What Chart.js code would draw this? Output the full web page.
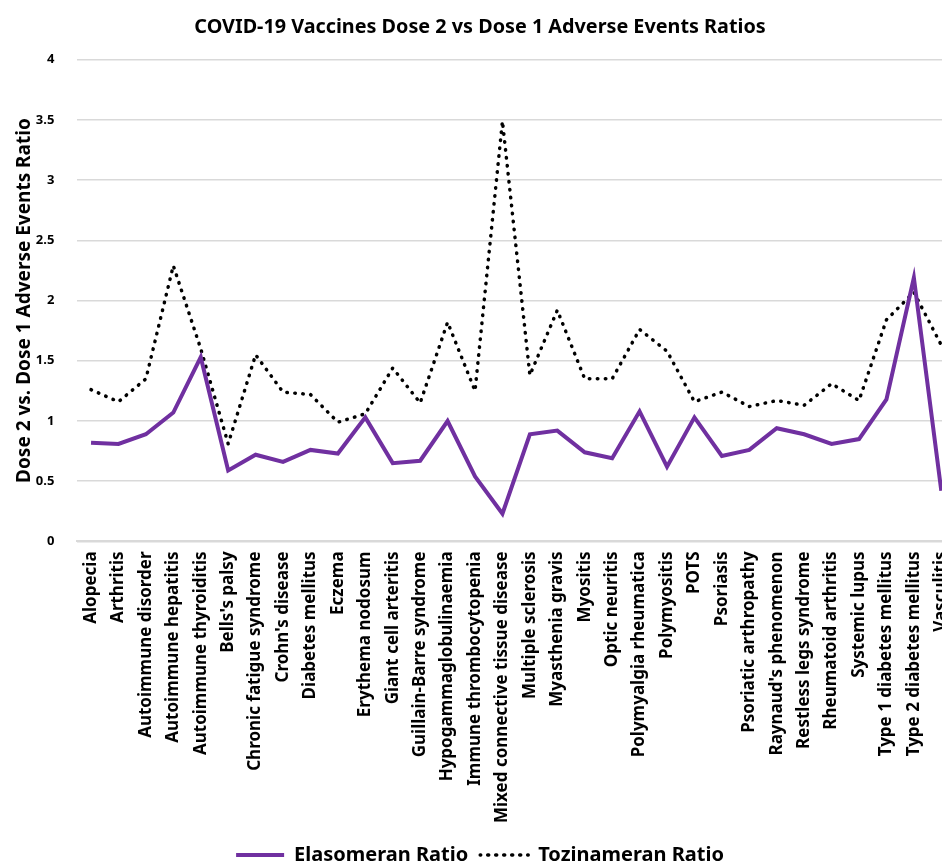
<!DOCTYPE html>
<html>
<head>
<meta charset="utf-8">
<script src="https://cdn.jsdelivr.net/npm/chart.js@4"></script>
<style>
  html, body { margin: 0; padding: 0; background: #fff; overflow: hidden; }
  #wrap { width: 962px; height: 875px; }
</style>
</head>
<body>
<div id="wrap"><canvas id="myChart" width="962" height="875"></canvas></div>
<script>
const categorias = [
  'Alopecia', 'Arthritis', 'Autoimmune disorder', 'Autoimmune hepatitis',
  'Autoimmune thyroiditis', "Bells's palsy", 'Chronic fatigue syndrome',
  "Crohn's disease", 'Diabetes mellitus', 'Eczema', 'Erythema nodosum',
  'Giant cell arteritis', 'Guillain-Barre syndrome', 'Hypogammaglobulinaemia',
  'Immune thrombocytopenia', 'Mixed connective tissue disease',
  'Multiple sclerosis', 'Myasthenia gravis', 'Myositis', 'Optic neuritis',
  'Polymyalgia rheumatica', 'Polymyositis', 'POTS', 'Psoriasis',
  'Psoriatic arthropathy', "Raynaud's phenomenon", 'Restless legs syndrome',
  'Rheumatoid arthritis', 'Systemic lupus', 'Type 1 diabetes mellitus',
  'Type 2 diabetes mellitus', 'Vasculitis'
];

const elasomeran = [
  0.82, 0.81, 0.89, 1.07, 1.53, 0.59, 0.72, 0.66, 0.76, 0.73, 1.03,
  0.65, 0.67, 1.00, 0.54, 0.23, 0.89, 0.92, 0.74, 0.69, 1.08,
  0.62, 1.03, 0.71, 0.76, 0.94, 0.89, 0.81, 0.85, 1.18, 2.19, 0.42
];

const tozinameran = [
  1.26, 1.16, 1.35, 2.29, 1.60, 0.81, 1.55, 1.24, 1.22, 0.99, 1.06,
  1.44, 1.15, 1.82, 1.25, 3.49, 1.38, 1.92, 1.35, 1.35, 1.76,
  1.58, 1.16, 1.24, 1.12, 1.17, 1.13, 1.31, 1.17, 1.84, 2.07, 1.63
];

const FUENTE = "'Noto Sans', 'DejaVu Sans', sans-serif";

const canvas = document.getElementById('myChart');
const grafica = new Chart(canvas, {
  type: 'line',
  data: {
    labels: categorias,
    datasets: [
      {
        label: 'Elasomeran Ratio',
        data: elasomeran,
        borderColor: '#7030A0',
        backgroundColor: '#7030A0',
        borderWidth: 4,
        pointRadius: 0,
        tension: 0
      },
      {
        label: 'Tozinameran Ratio',
        data: tozinameran,
        borderColor: '#000',
        backgroundColor: '#000',
        borderWidth: 3.5,
        borderDash: [0.5, 7.5],
        borderCapStyle: 'round',
        pointRadius: 0,
        tension: 0
      }
    ]
  },
  options: {
    responsive: false,
    animation: false,
    layout: { padding: { left: 5, right: 7, top: 0, bottom: 0 } },
    plugins: {
      title: {
        display: true,
        text: 'COVID-19 Vaccines Dose 2 vs Dose 1 Adverse Events Ratios',
        color: '#000',
        font: { family: FUENTE, size: 19.8, weight: 'bold' },
        padding: { top: 15, bottom: 21 }
      },
      legend: {
        position: 'bottom',
        labels: {
          color: '#000',
          font: { family: FUENTE, size: 20, weight: 'bold' },
          boxWidth: 48,
          boxHeight: 0,
          padding: 12,
          generateLabels: (chart) => {
            const items = Chart.defaults.plugins.legend.labels.generateLabels(chart);
            items.forEach(it => { it.lineCap = 'round'; });
            return items;
          }
        }
      },
      tooltip: { enabled: false }
    },
    scales: {
      x: {
        offset: true,
        afterFit: (eje) => { eje.paddingLeft = 0; eje.paddingRight = 0; },
        grid: { display: false, drawTicks: false },
        border: { color: '#d9d9d9', width: 2 },
        ticks: {
          color: '#000',
          autoSkip: false,
          maxRotation: 90,
          minRotation: 90,
          padding: 10,
          font: { family: FUENTE, size: 17, weight: 'bold' }
        }
      },
      y: {
        min: 0,
        max: 4,
        grid: { color: '#d9d9d9', lineWidth: 1.5, drawTicks: false },
        border: { display: false },
        ticks: {
          stepSize: 0.5,
          color: '#000',
          padding: 23,
          font: { family: FUENTE, size: 13, weight: 'bold' },
          callback: (v) => String(v)
        },
        title: {
          display: true,
          text: 'Dose 2 vs. Dose 1 Adverse Events Ratio',
          color: '#000',
          padding: { top: 8, bottom: -23 },
          font: { family: FUENTE, size: 19, weight: 'bold' }
        }
      }
    }
  }
});
</script>
</body>
</html>
